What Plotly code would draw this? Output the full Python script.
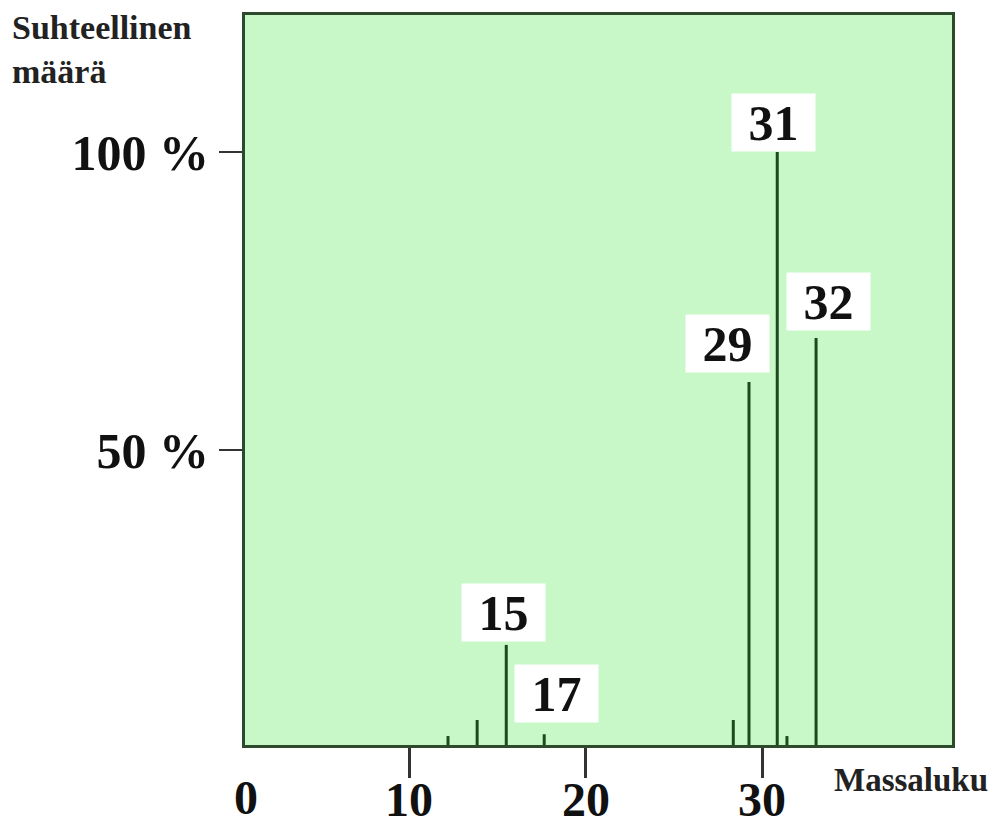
import plotly.graph_objects as go

# Data
peak_x = [12.2, 13.85, 15.5, 17.65, 28.36, 29.25, 30.85, 31.4, 33.05]
peak_h = [2.0, 4.7, 17.3, 2.3, 4.7, 61.4, 100.0, 2.0, 68.8]
peak_label = ["", "", "15", "17", "", "29", "31", "", "32"]
x_ticks = [10, 20, 30]
y_ticks = [50, 100]
y_tick_text = ["50 %", "100 %"]

W, H = 997, 827
OFF = 8  # page body margin
# target plot box in page pixels: left 245, right 952, top 15, bottom 745
ML = 245 - OFF
MT = 15 - OFF
MR = W - (952 - OFF)
MB = H - (745 - OFF)
XR = [0.7, 40.75]
YR = [0.5, 123.0]

# label offsets in pixels relative to peak tops
label_offsets = {"15": (-3, 32), "17": (12, 41), "29": (-21, 39), "31": (-4, 30), "32": (12, 36)}

FONT = "Liberation Serif"
LINE = "#1c4a1c"

xs, ys = [], []
for x, h in zip(peak_x, peak_h):
    xs += [x, x, None]
    ys += [0, h, None]

fig = go.Figure()
fig.add_trace(go.Scatter(x=xs, y=ys, mode="lines",
                         line=dict(color=LINE, width=3), hoverinfo="skip",
                         showlegend=False))

annotations = []
for x, h, lab in zip(peak_x, peak_h, peak_label):
    if not lab:
        continue
    dx, dy = label_offsets[lab]
    annotations.append(dict(x=x, y=h, xref="x", yref="y", text="<b>%s</b>" % lab,
                            showarrow=False, xshift=dx, yshift=dy,
                            width=83, height=57, borderpad=0,
                            font=dict(family=FONT, size=50, color="#111"),
                            bgcolor="white", xanchor="center", yanchor="middle"))

pw = W - ML - MR
ph = H - MT - MB
def px2paper(px, py):
    return (px - OFF - ML) / pw, (H - MB - (py - OFF)) / ph

# x tick labels (drawn as annotations so they sit low enough)
_, ty_lab = px2paper(0, 799)
for v in x_ticks:
    annotations.append(dict(x=v, y=ty_lab, xref="x", yref="paper", text="<b>%d</b>" % v,
                            showarrow=False, font=dict(family=FONT, size=48, color="#111"),
                            xanchor="center", yanchor="middle"))

# "0" label at left edge
zx, zy = px2paper(246, 797)
annotations.append(dict(x=zx, y=zy, xref="paper", yref="paper", text="<b>0</b>",
                        showarrow=False, font=dict(family=FONT, size=48, color="#111"),
                        xanchor="center", yanchor="middle"))
# y title
tx, ty = px2paper(10, 49)
annotations.append(dict(x=tx, y=ty, xref="paper", yref="paper",
                        text="<b>Suhteellinen<br>määrä</b>", align="left",
                        showarrow=False, font=dict(family=FONT, size=34, color="#222"),
                        xanchor="left", yanchor="middle"))
# x title
mx, my = px2paper(911, 780)
annotations.append(dict(x=mx, y=my, xref="paper", yref="paper", text="<b>Massaluku</b>",
                        showarrow=False, font=dict(family=FONT, size=33, color="#222"),
                        xanchor="center", yanchor="middle"))

fig.update_layout(
    width=W, height=H,
    margin=dict(l=ML, r=MR, t=MT, b=MB),
    paper_bgcolor="white",
    plot_bgcolor="#c8f8c8",
    annotations=annotations,
    xaxis=dict(range=XR, tickvals=x_ticks, showticklabels=False,
               ticks="outside", ticklen=30, tickwidth=3, tickcolor="#333",
               automargin=False,
               showgrid=False, zeroline=False, showline=True, linecolor="#2c4a2c",
               linewidth=3, mirror=True),
    yaxis=dict(range=YR, tickvals=y_ticks, ticktext=["<b>%s</b>" % t for t in y_tick_text],
               ticks="outside", ticklen=23, tickwidth=2, tickcolor="#333",
               tickfont=dict(family=FONT, size=50, color="#111"),
               ticklabelstandoff=0, automargin=False,
               showgrid=False, zeroline=False, showline=True, linecolor="#2c4a2c",
               linewidth=3, mirror=True),
)

fig.write_html("out.html")
